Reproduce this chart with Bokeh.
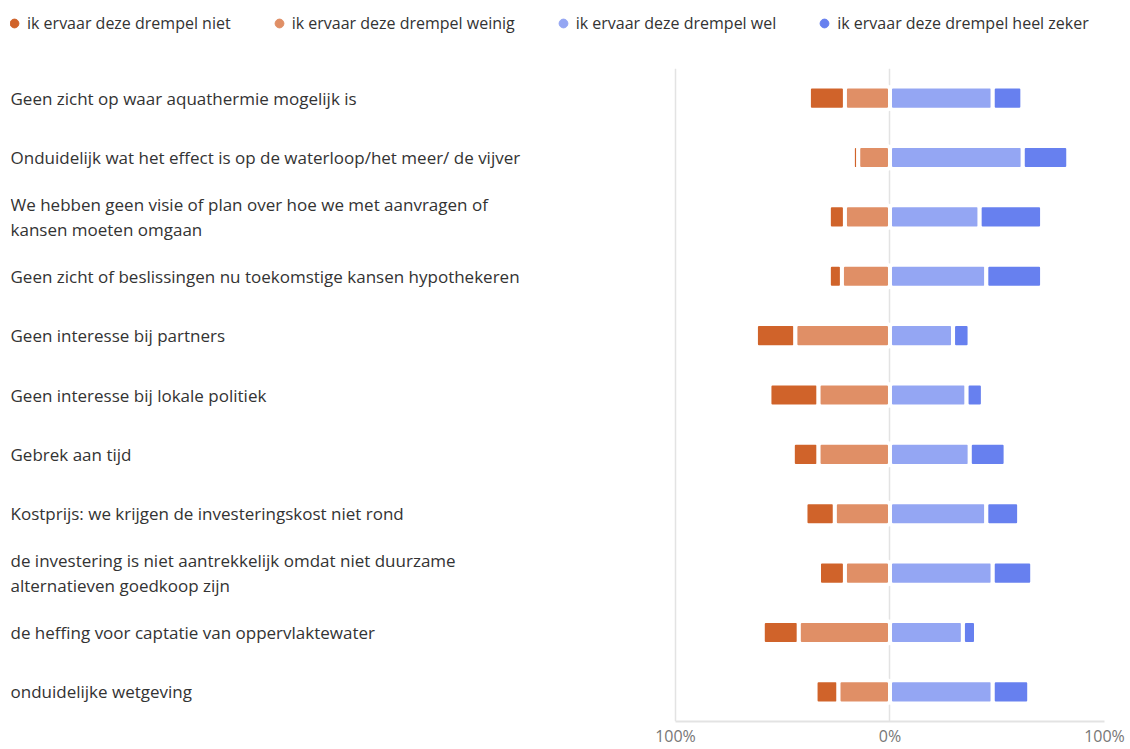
from bokeh.plotting import figure
from bokeh.layouts import column
from bokeh.models import ColumnDataSource, FactorRange, Range1d, FixedTicker, Legend, LegendItem
from bokeh.core.properties import value
from bokeh.embed import file_html
from bokeh.resources import INLINE

categories = [
    "Geen zicht op waar aquathermie  mogelijk is",
    "Onduidelijk wat het effect is op de waterloop/het meer/ de vijver",
    "We hebben geen visie of plan over hoe we met aanvragen of\nkansen moeten omgaan",
    "Geen zicht of beslissingen nu toekomstige kansen hypothekeren",
    "Geen interesse bij partners",
    "Geen interesse bij lokale politiek",
    "Gebrek aan tijd",
    "Kostprijs: we krijgen de investeringskost niet rond",
    "de investering is niet aantrekkelijk omdat niet duurzame\nalternatieven goedkoop zijn",
    "de heffing voor captatie van oppervlaktewater",
    "onduidelijke wetgeving",
]

niet = [16.8, 2.5, 7.5, 6.1, 18.4, 22.9, 12.0, 13.7, 12.1, 16.8, 10.7]
weinig = [21.0, 14.8, 21.0, 22.4, 44.1, 33.3, 33.3, 25.7, 21.0, 42.5, 24.0]
wel = [47.9, 61.9, 41.8, 44.9, 29.4, 35.7, 37.2, 44.9, 47.9, 34.0, 47.9]
heel = [13.8, 21.2, 29.1, 26.0, 7.7, 7.6, 16.7, 15.3, 18.4, 6.1, 17.0]

series_names = [
    "ik ervaar deze drempel niet",
    "ik ervaar deze drempel weinig",
    "ik ervaar deze drempel wel",
    "ik ervaar deze drempel heel zeker",
]

tick_values = [-100, 0, 100]
tick_labels = ["100%", "0%", "100%"]

colors = ["#D0632A", "#E08F66", "#94A6F3", "#6780EF"]
FONT = "Open Sans"
TEXT_COLOR = "#333333"

# stacked diverging extents
l_weinig = [-w for w in weinig]
r_weinig = [0.0] * len(weinig)
r_niet = l_weinig
l_niet = [-(w + n) for w, n in zip(weinig, niet)]
l_wel = [0.0] * len(wel)
r_wel = list(wel)
l_heel = list(wel)
r_heel = [a + b for a, b in zip(wel, heel)]

src = ColumnDataSource(dict(
    cat=categories,
    l_niet=l_niet, r_niet=r_niet,
    l_weinig=l_weinig, r_weinig=r_weinig,
    l_wel=l_wel, r_wel=r_wel,
    l_heel=l_heel, r_heel=r_heel,
))

X_START = -410
y_range = FactorRange(factors=list(reversed(categories)))
x_range = Range1d(X_START, 100)

# ---- legend strip ----
pl = figure(width=1130, height=68, y_range=y_range, x_range=x_range,
            output_backend="svg", toolbar_location=None,
            min_border_left=0, min_border_right=0, min_border_top=0, min_border_bottom=0)
pl.axis.visible = False
pl.grid.grid_line_color = None
pl.outline_line_color = None
keys = [("l_niet", "r_niet"), ("l_weinig", "r_weinig"), ("l_wel", "r_wel"), ("l_heel", "r_heel")]
legend_renderers = []
for (lk, rk), col in zip(keys, colors):
    r = pl.scatter(x=rk, y="cat", size=9, fill_color=col, line_color=col,
                   source=src, visible=False)
    legend_renderers.append(r)
legend = Legend(
    items=[LegendItem(label=n, renderers=[r]) for n, r in zip(series_names, legend_renderers)],
    orientation="horizontal", location=(-7, 34),
    glyph_width=22, glyph_height=22, label_standoff=2, spacing=37,
    padding=0, margin=0, border_line_color=None, background_fill_alpha=0,
    label_text_font=FONT, label_text_font_size="16px", label_text_color=TEXT_COLOR,
)
pl.add_layout(legend)

# ---- main chart ----
p = figure(
    width=1130, frame_height=660,
    y_range=y_range, x_range=x_range,
    output_backend="svg", toolbar_location=None,
    min_border_left=10, min_border_right=26, min_border_top=0, min_border_bottom=0,
)
p.background_fill_color = "white"
p.border_fill_color = "white"
p.outline_line_color = None

for (lk, rk), col in zip(keys, colors):
    p.hbar(y="cat", left=lk, right=rk, height=0.39, fill_color=col,
           line_color="white", line_width=4, border_radius=3, source=src)

p.text(x=X_START, y="cat", text="cat", source=src, x_offset=0,
       text_font=value(FONT), text_font_size="17px", text_color=TEXT_COLOR,
       text_align="left", text_baseline="middle", text_line_height=1.12)

p.yaxis.visible = False
p.ygrid.grid_line_color = None
p.xaxis.ticker = FixedTicker(ticks=tick_values)
p.xaxis.major_label_overrides = dict(zip(tick_values, tick_labels))
p.xaxis.bounds = (-100, 100)
p.xaxis.axis_line_color = "#e3e3e3"
p.xaxis.axis_line_width = 2
p.xaxis.major_tick_line_color = None
p.xaxis.major_tick_out = 0
p.xaxis.major_tick_in = 0
p.xaxis.minor_tick_line_color = None
p.xaxis.minor_tick_out = 0
p.xaxis.major_label_text_font = FONT
p.xaxis.major_label_text_font_size = "16px"
p.xaxis.major_label_text_color = "#777777"
p.xaxis.major_label_standoff = 3
p.xgrid.grid_line_color = "#e3e3e3"
p.xgrid.grid_line_width = 1.5

layout = column(pl, p, spacing=0, width=1130, height=749, styles={"overflow": "hidden"})
open("out.html", "w").write(file_html(layout, INLINE))
